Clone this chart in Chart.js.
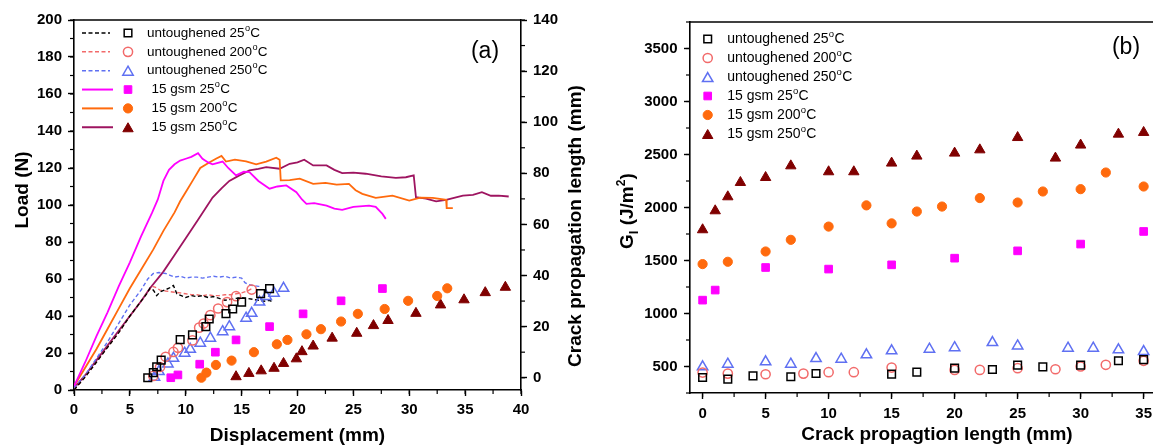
<!DOCTYPE html>
<html>
<head>
<meta charset="utf-8">
<script src="https://cdn.jsdelivr.net/npm/chart.js@4.4.1/dist/chart.umd.min.js"></script>
<style>
  html, body { margin: 0; padding: 0; background: #fff; overflow: hidden; width: 1153px; height: 446px; }
  canvas { position: absolute; top: 0; }
</style>
</head>
<body>
<canvas id="chartA" width="600" height="446" style="left:0"></canvas>
<canvas id="chartB" width="600" height="446" style="left:600px"></canvas>
<script>
// ---- series names / colours ----
const names = ['untoughened 25', 'untoughened 200', 'untoughened 250', '15 gsm 25', '15 gsm 200', '15 gsm 250'];
const markColors = ['#000000', '#F26A6A', '#5F70F2', '#FF00FF', '#FF6A0D', '#800000'];
const lineColors = ['#000000', '#F26A6A', '#5F70F2', '#FF00FF', '#FF6A0D', '#9E1460'];
const markStyles = ['rect', 'circle', 'triangle', 'rect', 'circle', 'triangle'];
const markFilled = [false, false, false, true, true, true];

// ---- ticks ----
const ticksDisp = [0, 5, 10, 15, 20, 25, 30, 35, 40];
const ticksLoad = [0, 20, 40, 60, 80, 100, 120, 140, 160, 180, 200];
const ticksCrack = [0, 20, 40, 60, 80, 100, 120, 140];
const ticksLen = [0, 5, 10, 15, 20, 25, 30, 35];
const ticksG = [500, 1000, 1500, 2000, 2500, 3000, 3500];

// ---- (a) load vs displacement ----
const dispU25 = [0, 1, 2, 3, 4, 5, 6, 6.5, 6.8, 7.1, 7.4, 7.7, 8.1, 8.5, 8.9, 9.2, 9.6, 10, 10.5, 11, 11.5, 12, 12.5, 13, 13.5, 14, 14.5, 15, 15.5, 16, 16.5, 17, 17.5, 17.8];
const loadU25 = [0, 7, 15, 23, 31, 40, 48, 52, 55, 54, 51, 53, 54, 55, 56.5, 52, 51, 50, 51, 50.5, 51, 50, 50.5, 49.5, 48.5, 49, 49.5, 50, 49.5, 49, 48.5, 48, 48.5, 47.5];
const dispU200 = [0, 1, 2, 3, 4, 5, 6, 6.6, 7.0, 7.3, 7.7, 8.2, 8.8, 9.5, 10, 10.5, 11, 11.5, 12, 12.5, 13, 13.5, 14, 14.5, 15, 15.5, 16];
const loadU200 = [0, 7, 15, 23, 31, 40, 48, 53, 56, 55.5, 54, 53.5, 53, 52.5, 52, 51.5, 51.5, 51, 51.5, 51, 51, 51.5, 51.5, 52, 52.5, 53.5, 55];
const dispU250 = [0, 1, 2, 3, 4, 5, 6, 6.6, 7.1, 7.6, 8.2, 8.6, 9, 9.5, 10, 10.5, 11, 11.5, 12, 12.5, 13, 13.5, 14, 14.5, 15, 15.3, 15.6, 16, 16.5, 16.8];
const loadU250 = [1, 8, 17, 26, 36, 46, 54, 60, 63, 63.5, 63, 62, 61, 61.5, 60.5, 61, 61, 60.5, 61, 61.5, 61, 61.5, 60.5, 61, 60.5, 58, 57, 56.5, 56, 56];
const disp15_25 = [0, 1, 2, 3, 4, 5, 6, 7, 7.5, 8, 8.5, 9, 9.5, 10, 10.5, 11.1, 11.5, 12, 12.4, 13.3, 13.8, 14.5, 15.2, 15.7, 16.5, 17.5, 18.2, 19, 19.9, 20.4, 20.8, 21.5, 22.6, 23.3, 24, 25, 26.4, 27, 27.6, 27.9];
const load15_25 = [2, 15, 29, 42, 56, 69, 83, 96, 103, 113, 119, 122, 124, 125, 126, 128, 125, 123, 122, 123.5, 120, 116, 118, 117.8, 113, 108.8, 110, 110.6, 106.9, 103, 100.6, 101, 99.7, 98, 97.4, 99, 99.7, 99, 95.2, 92.5];
const disp15_200 = [0, 1, 2, 3, 4, 5, 6, 7.1, 8, 9, 9.5, 10.1, 10.7, 11.3, 12.1, 12.7, 13.2, 13.6, 14.4, 15.4, 16.3, 17.2, 18.1, 18.4, 18.5, 19.3, 20.2, 21.4, 22.5, 23.5, 24.6, 25.2, 25.8, 27.0, 28.5, 30.0, 31, 32.1, 33.3, 33.35, 33.9];
const load15_200 = [2, 12, 22, 33, 44, 55, 65, 76, 86, 96, 102, 108, 114, 120, 123, 125, 126.5, 123.5, 124.5, 123.6, 122, 123.5, 125.6, 124.5, 113.3, 113.5, 114.2, 111.4, 112, 111, 111.4, 108, 106, 103.9, 105.1, 102.4, 104, 103.9, 102.8, 98.3, 98.3];
const disp15_250 = [0, 1, 2, 3, 4, 5, 6, 6.8, 8, 9, 10, 11.1, 12.4, 13.2, 13.9, 14.8, 15.7, 16.5, 17.2, 18.4, 19.3, 20, 20.6, 21.4, 22.6, 23.3, 24, 25, 26.1, 27.5, 28.8, 29.7, 30.4, 30.6, 31.5, 32.4, 33.3, 34.8, 35.7, 36.5, 37.3, 38, 38.9];
const load15_250 = [1, 8, 16, 24, 32, 40, 48, 55, 64, 73, 82, 92, 104, 109, 113, 116, 118.7, 119.5, 120.5, 119.6, 122.3, 123, 124.5, 121.4, 121.4, 119, 117.2, 117.5, 116.9, 115.5, 114.7, 115, 116, 104.2, 103.5, 102, 102.8, 105.1, 105.5, 106.9, 105, 105.1, 104.6];

// ---- (a) crack length vs displacement (right axis) ----
const cdU25 = [6.6, 7.1, 7.4, 7.8, 9.5, 10.6, 11.8, 12.1, 13.6, 14.2, 15.0, 16.7, 17.5];
const clU25 = [0, 2, 4.3, 6.9, 14.9, 16.8, 20, 23, 25.1, 26.9, 29.6, 32.9, 34.9];
const cdU200 = [7.1, 7.7, 8.2, 8.9, 9.3, 10.6, 11.2, 11.6, 12.2, 12.9, 13.7, 14.5, 15.9];
const clU200 = [0.7, 4.2, 8.2, 10.1, 11.7, 14.6, 19.6, 21.2, 24.5, 27.1, 29.6, 31.9, 34.5];
const cdU250 = [7.2, 7.6, 8.4, 8.9, 9.9, 10.4, 11.3, 12.2, 13.3, 13.9, 15.4, 15.9, 16.6, 17.2, 17.9, 18.75];
const clU250 = [0.2, 2.4, 5.4, 7.6, 9.6, 11.1, 13.5, 15.5, 18, 20, 23.3, 25.2, 29.6, 31.8, 33.1, 35];
const cd15_25 = [8.66, 9.3, 11.25, 12.65, 14.5, 17.5, 20.5, 23.9, 27.6];
const cl15_25 = [0, 1.1, 5.3, 10, 14.8, 20, 25, 30.1, 34.9];
const cd15_200 = [11.4, 11.85, 12.7, 14.1, 16.1, 18.15, 19.1, 20.8, 22.1, 23.9, 25.4, 27.8, 29.9, 32.5, 33.4];
const cl15_200 = [0, 2, 5, 6.7, 10, 13.1, 14.8, 17, 19, 22, 25, 26.9, 30.1, 32, 35];
const cd15_250 = [14.5, 15.65, 16.75, 17.9, 18.75, 19.9, 20.4, 21.4, 23.1, 25.3, 26.8, 28.1, 30.6, 32.8, 34.9, 36.8, 38.6];
const cl15_250 = [0.4, 1.7, 2.7, 3.7, 5.6, 7.4, 10.2, 12.4, 15.5, 17.4, 20.4, 22.4, 25.2, 28.5, 30.5, 33.3, 35.4];

// ---- (b) GI vs crack length ----
const lenU25 = [0, 2, 4, 7, 9, 15, 17, 20, 23, 25, 27, 30, 33, 35];
const gU25 = [396, 381, 412, 403, 434, 428, 447, 485, 472, 513, 497, 513, 554, 565];
const lenU200 = [0, 2, 5, 8, 10, 12, 15, 20, 22, 25, 28, 30, 32, 35];
const gU200 = [443, 433, 427, 433, 446, 446, 490, 468, 468, 484, 474, 500, 516, 554];
const lenU250 = [0, 2, 5, 7, 9, 11, 13, 15, 18, 20, 23, 25, 29, 31, 33, 35];
const gU250 = [497, 522, 544, 522, 575, 569, 610, 648, 663, 678, 726, 694, 673, 673, 657, 641];
const len15_25 = [0, 1, 5, 10, 15, 20, 25, 30, 35];
const g15_25 = [1126, 1221, 1434, 1419, 1459, 1522, 1591, 1655, 1774];
const len15_200 = [0, 2, 5, 7, 10, 13, 15, 17, 19, 22, 25, 27, 30, 32, 35];
const g15_200 = [1466, 1488, 1585, 1695, 1820, 2020, 1850, 1962, 2009, 2089, 2047, 2151, 2173, 2330, 2198];
const len15_250 = [0, 1, 2, 3, 5, 7, 10, 12, 15, 17, 20, 22, 25, 28, 30, 33, 35];
const g15_250 = [1790, 1969, 2101, 2236, 2283, 2393, 2337, 2337, 2419, 2485, 2513, 2544, 2660, 2466, 2589, 2692, 2708];

const FONT = "'Liberation Sans', Arial, sans-serif";

const pts = (xs, ys) => xs.map((x, i) => ({ x: x, y: ys[i] }));

function lineSet(i, xs, ys) {
    const dashed = i < 3;
    return {
        label: names[i], data: pts(xs, ys), showLine: true, borderColor: lineColors[i],
        borderWidth: dashed ? 1.4 : 1.8, borderDash: dashed ? [4, 2.5] : [],
        pointRadius: 0, pointHoverRadius: 0, yAxisID: 'y', order: 2
    };
}
function markSet(i, xs, ys, yAxisID) {
    const st = markStyles[i];
    return {
        label: names[i], data: pts(xs, ys), showLine: false, pointStyle: st,
        pointRadius: st === 'circle' ? 4.6 : (st === 'rect' ? 5.4 : 6),
        borderColor: markColors[i], backgroundColor: markFilled[i] ? markColors[i] : 'rgba(0,0,0,0)',
        borderWidth: markFilled[i] ? 1 : 1.5, yAxisID: yAxisID, order: 1
    };
}

function axis(pos, min, max, ticks, size, pad) {
    return {
        type: 'linear', position: pos, min: min, max: max,
        afterBuildTicks: s => { s.ticks = ticks.map(v => ({ value: v })); },
        afterFit: s => { if (pos === 'bottom') s.height = size; else s.width = size; },
        border: { display: true, color: '#000', width: 1.6 },
        grid: { display: true, drawOnChartArea: false, drawTicks: true, tickLength: 6, tickWidth: 1.4, tickColor: '#000', color: '#000' },
        ticks: { color: '#000', font: { family: FONT, size: 15, weight: 'bold' }, padding: pad, callback: v => String(v) }
    };
}

//OTHERS - drawing helpers
function minorTicks(chart, steps) {
    const ctx = chart.ctx;
    ctx.save();
    ctx.strokeStyle = '#000';
    ctx.lineWidth = 1.2;
    Object.keys(steps).forEach(id => {
        const s = chart.scales[id], step = steps[id];
        for (let k = Math.ceil(s.min / step); k * step <= s.max + 1e-9; k++) {
            const p = s.getPixelForValue(k * step);
            ctx.beginPath();
            if (id === 'x') { ctx.moveTo(p, s.top); ctx.lineTo(p, s.top + 4); }
            else if (s.position === 'left') { ctx.moveTo(s.right, p); ctx.lineTo(s.right - 4, p); }
            else { ctx.moveTo(s.left, p); ctx.lineTo(s.left + 4, p); }
            ctx.stroke();
        }
    });
    ctx.restore();
}

function topLine(chart) {
    const ctx = chart.ctx, a = chart.chartArea;
    ctx.save();
    ctx.strokeStyle = '#000';
    ctx.lineWidth = 1.6;
    ctx.beginPath();
    ctx.moveTo(a.left, a.top);
    ctx.lineTo(a.right, a.top);
    ctx.stroke();
    ctx.restore();
}

// text with a raised small "o" before the final "C"
function degText(ctx, txt, x, y, size) {
    ctx.font = size + 'px ' + FONT;
    ctx.textAlign = 'left';
    ctx.textBaseline = 'middle';
    ctx.fillText(txt, x, y);
    let w = ctx.measureText(txt).width;
    ctx.font = (size * 0.68) + 'px ' + FONT;
    ctx.fillText('o', x + w + 0.3, y - size * 0.36);
    w += ctx.measureText('o').width + 0.6;
    ctx.font = size + 'px ' + FONT;
    ctx.fillText('C', x + w, y);
}

function drawLegend(ctx, o) {
    ctx.save();
    names.forEach((nm, i) => {
        const y = o.y0 + i * o.dy;
        if (o.lines) {
            ctx.strokeStyle = lineColors[i];
            ctx.lineWidth = i < 3 ? 1.5 : 2;
            ctx.setLineDash(i < 3 ? [4, 2.5] : []);
            ctx.beginPath();
            ctx.moveTo(o.lineX0, y);
            ctx.lineTo(i < 3 ? o.lineX1 - 3 : o.lineX1, y);
            ctx.stroke();
            ctx.setLineDash([]);
        }
        const st = markStyles[i];
        ctx.strokeStyle = markColors[i];
        ctx.fillStyle = markFilled[i] ? markColors[i] : 'rgba(0,0,0,0)';
        ctx.lineWidth = markFilled[i] ? 1 : 1.5;
        Chart.helpers.drawPoint(ctx, {
            pointStyle: st, rotation: 0, borderWidth: ctx.lineWidth,
            radius: st === 'circle' ? 4.6 : (st === 'rect' ? 5.4 : 6)
        }, o.markX, st === 'triangle' ? y + 1.5 : y);
        ctx.fillStyle = '#000';
        degText(ctx, nm, o.textX + (i >= 3 ? o.indent : 0), y, o.size);
    });
    ctx.restore();
}

// rotated text (reads bottom to top); parts: [text, fontSize, shift]
function vText(ctx, parts, x, y, centered) {
    ctx.save();
    ctx.translate(x, y);
    ctx.rotate(-Math.PI / 2);
    ctx.fillStyle = '#000';
    ctx.textBaseline = 'alphabetic';
    ctx.textAlign = 'left';
    let total = 0;
    parts.forEach(p => { ctx.font = 'bold ' + p[1] + 'px ' + FONT; total += ctx.measureText(p[0]).width; });
    let cx = centered ? -total / 2 : 0;
    parts.forEach(p => {
        ctx.font = 'bold ' + p[1] + 'px ' + FONT;
        ctx.fillText(p[0], cx, p[2] || 0);
        cx += ctx.measureText(p[0]).width;
    });
    ctx.restore();
}

function hText(ctx, txt, x, y) {
    ctx.save();
    ctx.fillStyle = '#000';
    ctx.font = 'bold 19px ' + FONT;
    ctx.textAlign = 'center';
    ctx.textBaseline = 'alphabetic';
    ctx.fillText(txt, x, y);
    ctx.restore();
}

const decoA = {
    id: 'decoA',
    afterDraw(chart) {
        const ctx = chart.ctx, a = chart.chartArea;
        topLine(chart);
        minorTicks(chart, { x: 2.5, y: 10, y2: 10 });
        drawLegend(ctx, { lines: true, lineX0: 82, lineX1: 113, markX: 128, textX: 147, indent: 4.5, y0: 33, dy: 18.85, size: 13.5 });
        ctx.save();
        ctx.fillStyle = '#000';
        ctx.font = '23px ' + FONT;
        ctx.textAlign = 'center';
        ctx.textBaseline = 'middle';
        ctx.fillText('(a)', 485, 52);
        ctx.restore();
        hText(ctx, 'Displacement (mm)', (a.left + a.right) / 2, 441);
        vText(ctx, [['Load (N)', 19]], 27.5, 190, true);
        vText(ctx, [['Crack propagation length (mm)', 19]], 581, 226, true);
    }
};

const decoB = {
    id: 'decoB',
    afterDraw(chart) {
        const ctx = chart.ctx;
        topLine(chart);
        minorTicks(chart, { x: 2.5, y: 250 });
        drawLegend(ctx, { lines: false, markX: 107.7, textX: 127.3, indent: 0, y0: 39, dy: 19, size: 14 });
        ctx.save();
        ctx.fillStyle = '#000';
        ctx.font = '23px ' + FONT;
        ctx.textAlign = 'center';
        ctx.textBaseline = 'middle';
        ctx.fillText('(b)', 526, 48);
        ctx.restore();
        hText(ctx, 'Crack propagtion length (mm)', 337, 440);
        vText(ctx, [['G', 19], ['I', 13, 5], [' (J/m', 19], ['2', 12, -8], [')', 19]], 33, 249, false);
    }
};

const common = {
    responsive: false, animation: false, devicePixelRatio: 1,
    plugins: { legend: { display: false }, tooltip: { enabled: false } }
};

new Chart(document.getElementById('chartA').getContext('2d'), {
    type: 'scatter',
    data: {
        datasets: [
            lineSet(0, dispU25, loadU25), lineSet(1, dispU200, loadU200), lineSet(2, dispU250, loadU250),
            lineSet(3, disp15_25, load15_25), lineSet(4, disp15_200, load15_200), lineSet(5, disp15_250, load15_250),
            markSet(0, cdU25, clU25, 'y2'), markSet(1, cdU200, clU200, 'y2'), markSet(2, cdU250, clU250, 'y2'),
            markSet(3, cd15_25, cl15_25, 'y2'), markSet(4, cd15_200, cl15_200, 'y2'), markSet(5, cd15_250, cl15_250, 'y2')
        ]
    },
    options: Object.assign({}, common, {
        layout: { padding: { top: 20, left: 0, right: 0, bottom: 0 } },
        scales: {
            x: axis('bottom', 0, 40, ticksDisp, 56, 5),
            y: axis('left', 0, 200, ticksLoad, 74, 6),
            y2: axis('right', -4.8, 140, ticksCrack, 79, 6)
        }
    }),
    plugins: [decoA]
});

new Chart(document.getElementById('chartB').getContext('2d'), {
    type: 'scatter',
    data: {
        datasets: [
            markSet(0, lenU25, gU25, 'y'), markSet(1, lenU200, gU200, 'y'), markSet(2, lenU250, gU250, 'y'),
            markSet(3, len15_25, g15_25, 'y'), markSet(4, len15_200, g15_200, 'y'), markSet(5, len15_250, g15_250, 'y')
        ]
    },
    options: Object.assign({}, common, {
        layout: { padding: { top: 22, left: 0, right: 27, bottom: 0 } },
        scales: {
            x: axis('bottom', -1, 37.33, ticksLen, 53, 6),
            y: axis('left', 250, 3750, ticksG, 90, 6.5)
        }
    }),
    plugins: [decoB]
});
</script>
</body>
</html>
